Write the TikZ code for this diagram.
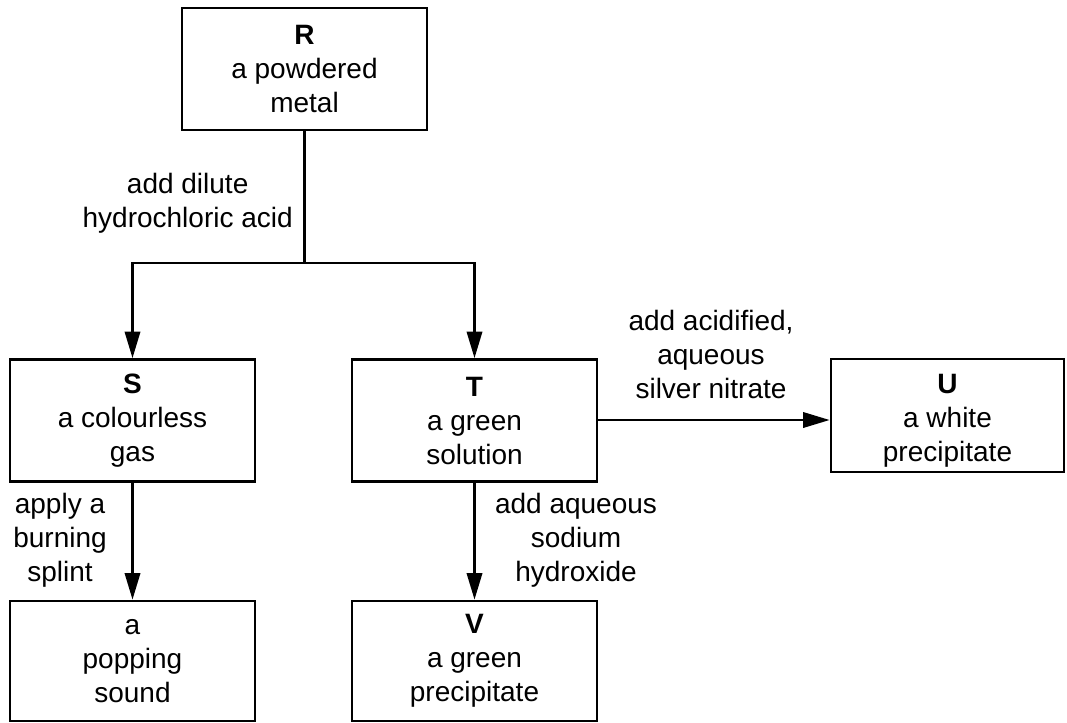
\documentclass[tikz,border=0pt]{standalone}
\usepackage{fontspec}
\setmainfont{Liberation Sans}
\usetikzlibrary{arrows.meta}
\tikzset{
  box/.style={draw, line width=2pt, minimum width=183.75pt, minimum height=91.5pt, inner sep=0pt, align=center, font=\fontsize{21}{25.5}\selectfont},
  lbl/.style={inner sep=0pt, align=center, font=\fontsize{21}{25.5}\selectfont},
  conn/.style={line width=2pt},
  arr/.style={line width=2pt, -{Triangle[length=20pt,width=11.5pt]}}
}
\begin{document}
\begin{tikzpicture}[x=0.75pt,y=-0.75pt]
\useasboundingbox (0,0) rectangle (1067,722);
\node[box] (R) at (304.5,69) {\textbf{R}\\a powdered\\metal};
\node[box] (S) at (132.5,420.5) {\textbf{S}\\a colourless\\gas};
\node[box] (T) at (474.5,420.5) {\textbf{T}\\a green\\solution};
\node[box, minimum width=174.75pt, minimum height=84.75pt] (U) at (947.5,415.5) {};
\node[lbl] (Ut) at (947.5,421) {\textbf{U}\\a white\\precipitate};
\node[box, minimum height=90pt] (P) at (132.5,661) {a\\popping\\sound};
\node[box, minimum height=90pt] (V) at (474.5,661) {\textbf{V}\\a green\\precipitate};
\coordinate (J) at (304.5,263);
\draw[conn] (R.south) -- (J);
\draw[arr] (J) -| (S.north);
\draw[arr] (J) -| (T.north);
\draw[arr] (S.south) -- (P.north);
\draw[arr] (T.south) -- (V.north);
\draw[arr] (T.east |- 0,420) -- (U.west |- 0,420);
\node[lbl, anchor=east] (L1) at (293,203) {add dilute\\hydrochloric acid};
\node[lbl] (L2) at (711,354) {add acidified,\\aqueous\\silver nitrate};
\node[lbl] (L3) at (60,540) {apply a\\burning\\splint};
\node[lbl] (L4) at (576,540) {add aqueous\\sodium\\hydroxide};
\end{tikzpicture}
\end{document}
